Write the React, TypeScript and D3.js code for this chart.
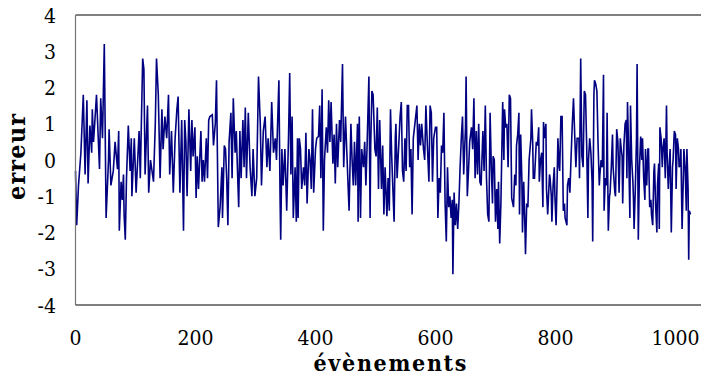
import React from "react";
import * as d3 from "d3";

const events: number[] = [
  0, 2, 5, 9, 13, 16, 19, 21, 24, 27, 28, 30, 32, 35, 40, 42, 45, 48, 51, 55, 56, 59, 63, 66, 70, 72, 73, 76, 78, 80,
  81, 83, 85, 88, 91, 93, 94, 98, 101, 106, 108, 110, 112, 114, 116, 120, 122, 125, 130, 133, 135, 138, 141, 144, 146, 149, 152, 155, 157,
  160, 163, 166, 169, 171, 174, 177, 180, 182, 184, 186, 189, 192, 194, 196, 199, 201, 203, 205, 209, 211, 213, 215, 218, 220,
  222, 224, 228, 230, 233, 235, 238, 241, 244, 245, 248, 250, 252, 254, 256, 259, 261, 263, 266, 268, 270, 272, 274, 276, 279,
  281, 283, 285, 288, 291, 294, 296, 299, 302, 305, 308, 310, 313, 316, 319, 321, 324, 327, 330, 333, 335, 339, 341, 342, 344,
  346, 349, 352, 355,
  357, 359, 361, 363, 366, 368, 370, 371, 373, 375, 377, 380, 382, 384, 386, 389, 391, 393, 395, 397, 400, 402, 405, 407, 409,
  411, 413, 415, 418, 420, 422, 424, 426, 429, 431, 433, 435, 437, 440, 442, 445, 447, 450, 452, 455, 456, 459, 461, 463, 465,
  467, 470, 471, 473, 475, 477, 480, 482, 484, 486, 489, 491, 492, 494, 496, 499, 501, 503, 505, 507, 510, 512, 514, 516, 519,
  521, 523, 525, 527, 531,
  533, 534, 536, 539, 541, 543, 545, 547, 549, 551, 553, 555, 557, 559, 561, 563, 565, 569, 571, 573, 575, 577, 580, 582, 584,
  586, 589, 591, 593, 595, 597, 600, 602, 604, 606, 608, 610, 612, 614, 616, 618, 620, 622, 624, 626, 628, 629, 631, 633, 635,
  637, 639, 641, 643, 645, 647, 650, 651, 653, 655, 657, 660, 662, 664, 666, 668, 670, 672, 674, 676, 679, 681, 683, 685, 687,
  689, 691, 693, 695, 696, 698, 700, 702, 704, 705, 707,
  709, 712, 714, 715, 717, 719, 721, 723, 725, 727, 730, 732, 734, 735, 737, 739, 740, 742, 744, 745, 747, 749, 750, 752, 754,
  756, 759, 760, 762, 763, 765, 768, 770, 772, 773, 775, 777, 779, 780, 782, 784, 785, 787, 790, 791, 793, 794, 796, 798, 799,
  801, 803, 804, 806, 807, 809, 811, 813, 815, 816, 819, 820, 822, 824, 826, 828, 830, 832, 834, 836, 839, 840, 842, 844, 846,
  848, 850, 852, 854, 855, 857, 859, 861, 862, 864, 865, 867, 869, 871, 873, 874, 876, 878, 880, 881, 883, 885, 886, 888, 890,
  891, 893, 895, 896, 899, 900, 902,
  904, 906, 908, 909, 911, 912, 914, 916, 918, 919, 920, 922, 924, 925, 927, 929, 930, 931, 933, 935, 936, 938, 940, 942, 944,
  945, 947, 949, 950, 952, 954, 955, 957, 959, 960, 962, 964, 965, 967, 969, 970, 972, 973, 974, 976, 978, 979, 981, 983, 985,
  986, 988, 990, 991, 993, 995, 996, 998, 1000, 1001, 1003, 1005, 1006, 1008, 1009, 1011, 1013, 1014, 1016, 1018, 1019, 1021,
  1022, 1023, 1025,
];

const errors: number[] = [
  -0.3, -1.8, -0.7, 0.2, 1.8, -0.4, 1.65, -0.65, 0.95, 0.2, 1.4, 0.5, 1.0, 1.8, -0.25, 1.7, 0.6, 3.2, -1.6, 0, 0.85, -0.7, -0.3, 0.5, -0.25, 0.8, -1.95, -0.6, -1.1, -0.4,
  -1.5, -2.2, -0.5, 0.95, -0.3, 0.6, -1.0, 0.6, -0.9, 0.8, -0.5, 1.2, 2.8, 2.5, -0.4, 1.5, -0.9, 0.0, -0.6, 1.0, 2.8, 1.8, -0.5, 1.4, 0.3, 1.2, 0.6, 1.8, -0.4,
  0.8, -0.9, 0.6, 1.4, 1.75, -0.9, 1.1, -1.95, 1.1, 0.5, -1.0, 1.4, -0.3, 1.1, 0.1, 0.9, -1.05, 0.1, -0.8, 0.8, -0.6, 0.0, -0.6, 0.6, -0.5,
  1.1, 1.2, 1.25, 0.4, 1.0, 2.2, -1.85, -1.3, -0.2, -1.6, 0.4, 0.3, -0.5, -1.8, 0.5, 1.3, -0.5, 1.7, 0.2, 0.8, -0.3, -1.3, 0.8, -0.5, 1.1,
  -0.2, 1.45, -0.5, 1.3, -0.2, -1.0, 0.3, -1.0, -0.5, 2.3, 1.0, -0.7, 0.8, 1.2, -0.2, 0.6, -0.3, 1.6, 0.2, 0.6, 0.0, 2.2, -1.1, -2.2, 0.3,
  -0.7, 0.3, -1.4, 0.6,
  2.4, -0.4, 1.2, -1.6, -0.2, -1.7, 0.6, -1.6, 0.6, 0.3, -0.8, -0.2, -0.7, 0.75, -1.2, 0.3, 0.0, -0.8, 1.4, -0.9, 0.3, 0.6, 0.65, 1.5, -0.5,
  1.95, -1.95, 0.0, 0.9, 0.2, 1.65, 0.5, 1.6, -0.1, 0.7, -0.65, 1.0, -0.2, 1.1, 0.5, 2.65, -0.2, 1.2, 0.3, -1.0, -1.4, 1.0, 0.0, -0.7, 0.5,
  -0.7, 1.0, -1.7, 1.2, -1.6, 0.3, -0.2, 0.5, -0.7, 0.4, 2.3, -1.6, 0.4, 1.9, 1.8, 0.3, 0.1, 1.45, -0.8, 1.1, -0.8, 0.4, -1.5, -0.2, -1.55,
  -0.5, -1.4, 1.4, 0.1, -1.7,
  0.6, 1.0, -0.5, 0.5, 1.2, 1.6, -0.3, -0.6, 0.6, -0.3, 1.5, 1.5, -0.2, 0.3, -1.5, 0.6, 0.9, 1.5, 0.0, 1.0, 0.4, 1.0, 0.3, 0.0, 1.5,
  0.6, -0.6, 1.5, 1.3, -0.6, 0.6, 0.9, 0.9, -1.6, -0.5, -0.9, 0.4, 0.2, 1.3, -1.2, -2.25, -0.2, -1.3, -1.0, -1.6, -1.1, -3.15, -0.9, -1.8, -1.2,
  -1.9, -1.2, -0.2, 0.6, 1.2, -0.4, 0.9, 2.3, -1.0, -0.3, 0.5, 0.9, 0.3, 1.7, -0.5, 0.8, -0.4, 1.0, -0.6, -0.7, 0.8, -0.3, 1.5, -0.5, -1.5,
  -1.7, 1.3, -0.2, -1.2, 0.1, 0.0, -1.7, -0.8, -1.9, -0.6, -2.3,
  -1.2, 1.6, 0.0, 1.4, 0.9, 1.0, -0.2, 1.8, 1.7, -1.05, -1.3, -0.4, -0.7, 0.4, 0.7, 1.3, -1.5, 0.7, -0.6, -2.0, -0.6, -1.8, -2.6, -1.2, -1.3,
  0.0, 0.6, 1.4, 0.5, -0.5, -0.5, 0.5, 0.4, 0.9, -0.6, 0.0, 0.2, -1.3, 1.05, 0.6, 1.0, -0.8, -1.5, -0.4, -0.5, -1.0, -1.7, -0.7, -0.2, -1.0,
  -1.8, -0.3, 0.6, -0.2, -0.3, 1.2, 1.2, -1.4, -1.2, -1.6, -1.8, -0.7, -0.5, -0.9, 0.1, 1.0, 1.7, 0.7, -0.2, 0.6, 0.6, -0.5, 2.8, 0.1, -0.2,
  1.9, 1.8, 0.4, -1.6, 0.0, 0.6, 0.2, -0.6, -2.25, 1.8, 2.2, 2.1, 1.9, 0.4, -0.7, -0.4, 0.0, -0.2, 2.35, -1.4, -0.5, -0.7, 1.3, -1.95, -1.0,
  -0.9, -0.2, 0.7, -0.2, -0.9, -1.0, 0.85,
  0.5, -0.9, 0.6, 0.4, 0.1, -1.2, 0.4, 1.0, 1.1, -0.5, 1.6, 0.2, -1.6, 1.5, 0.0, -0.6, -1.1, -1.9, -0.8, 0.6, 2.65, -2.2, -0.2, 0.65, 0.0,
  0.6, -0.5, -1.1, 0.3, -0.7, 0.3, 0.3, -1.3, -1.1, -1.5, -1.8, -0.3, -0.1, -1.3, -2.0, -0.7, -0.1, -1.9, 0.9, 0.6, -0.2, 0.3, 0.6, -0.5, 1.5,
  0.2, -0.8, 0.0, 0.3, -2.0, -0.2, 0.0, 0.8, 0.7, -0.8, 0.6, 0.3, -0.2, -0.1, 0.3, -1.9, -0.5, 0.3, -0.2, -1.4, 0.3, -0.8,
  -2.75, -1.4, -1.5,
];

const yTicks: number[] = [-4, -3, -2, -1, 0, 1, 2, 3, 4];
const xTicks: number[] = [0, 200, 400, 600, 800, 1000];
const xTitle = "évènements";
const yTitle = "erreur";

const W = 702;
const H = 378;

export default function App() {
  const x = d3.scaleLinear().domain([0, 1000]).range([75.5, 675.5]);
  const y = d3.scaleLinear().domain([-4, 4]).range([305, 15]);
  const pts: [number, number][] = events.map((e, i) => [e, errors[i]]);
  const line = d3
    .line<[number, number]>()
    .x((d) => x(d[0]))
    .y((d) => y(d[1]));
  const font = "'DejaVu Serif Condensed', 'Liberation Serif', 'DejaVu Serif', serif";
  const left = x(0);
  const right = 701;
  return (
    <svg
      width={W}
      height={H}
      style={{ position: "absolute", left: 0, top: 0, background: "#fff" }}
    >
      <rect x={0} y={0} width={W} height={H} fill="#fff" />
      <path d={line(pts) || ""} fill="none" stroke="#000080" strokeWidth={1.6} />
      <line x1={left} x2={right} y1={y(4)} y2={y(4)} stroke="#000" strokeWidth={1} />
      <line x1={left} x2={left} y1={y(4)} y2={y(-4)} stroke="#777" strokeWidth={1.2} />
      <line x1={left} x2={right} y1={y(-4)} y2={y(-4)} stroke="#555" strokeWidth={1.5} />
      {yTicks.map((t) => (
        <text
          key={"y" + t}
          x={56}
          y={y(t)}
          dy="0.36em"
          textAnchor="end"
          style={{ fontFamily: font, fontStretch: "condensed" }}
          fontSize={21}
          fill="#000"
        >
          {t}
        </text>
      ))}
      {xTicks.map((t) => (
        <text
          key={"x" + t}
          x={x(t)}
          y={345}
          textAnchor="middle"
          style={{ fontFamily: font, fontStretch: "condensed" }}
          fontSize={21}
          fill="#000"
        >
          {t}
        </text>
      ))}
      <text
        x={390}
        y={371}
        textAnchor="middle"
        style={{ fontFamily: font, fontStretch: "condensed" }}
        fontSize={23}
        fontWeight="bold"
        textLength={153}
        lengthAdjust="spacing"
      >
        {xTitle}
      </text>
      <text
        transform="translate(25,157) rotate(-90)"
        textAnchor="middle"
        style={{ fontFamily: font, fontStretch: "condensed" }}
        fontSize={25}
        fontWeight="bold"
        textLength={86}
        lengthAdjust="spacing"
      >
        {yTitle}
      </text>
    </svg>
  );
}
